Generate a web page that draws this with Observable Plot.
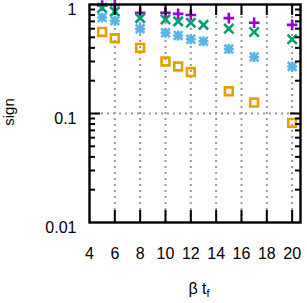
<!DOCTYPE html>
<html><head><meta charset="utf-8">
<script src="https://cdn.jsdelivr.net/npm/d3@7"></script>
<script src="https://cdn.jsdelivr.net/npm/@observablehq/plot@0.6"></script>
<style>body{margin:0;background:#fff} svg{display:block}</style>
</head><body><div id="chart"></div>
<script>
const betaTf = [5, 6, 8, 10, 11, 12, 13, 15, 17, 20];
const seriesPurple = [0.98, 0.99, 0.84, 0.84, 0.82, 0.80, null, 0.75, 0.68, 0.65];
const seriesGreen  = [0.93, 0.86, 0.75, 0.73, 0.70, 0.68, 0.65, 0.60, 0.56, 0.48];
const seriesBlue   = [0.76, 0.71, 0.60, 0.55, 0.52, 0.48, 0.46, 0.39, 0.33, 0.27];
const seriesOrange = [0.56, 0.49, 0.40, 0.30, 0.27, 0.24, null, 0.16, 0.126, 0.082];
const xTicks = [4, 6, 8, 10, 12, 14, 16, 18, 20];
const yTicks = [0.01, 0.1, 1];
const yTickLabels = ["0.01", "0.1", "1"];
const xLabel = "β t";
const xLabelSub = "f";
const yLabel = "sign";

const rows = s => betaTf.map((x, i) => ({x, y: s[i]})).filter(d => d.y != null);
const purple = rows(seriesPurple), green = rows(seriesGreen), blue = rows(seriesBlue), orange = rows(seriesOrange);
const minorY = [];
for (const d of [0.01, 0.1]) for (let k = 2; k <= 9; k++) minorY.push(+(d * k).toPrecision(3));
const innerX = xTicks.filter(t => t > 4);
const gridStyle = {stroke: "#999", strokeOpacity: 1, strokeWidth: 2, strokeDasharray: "2,4"};
const sw = 2.6;
const font = "'Liberation Sans', Arial, sans-serif";

const plot = Plot.plot({
  width: 307, height: 303,
  marginLeft: 89, marginRight: 7, marginTop: 4, marginBottom: 81,
  style: {fontFamily: font, fontSize: "16px", color: "#000", background: "#fff"},
  x: {domain: [4, 20.66], axis: null},
  y: {type: "log", domain: [0.01, 1], axis: null},
  marks: [
    Plot.gridX(innerX, gridStyle),
    Plot.gridY([0.1], gridStyle),
    Plot.dot(purple, {x: "x", y: "y", symbol: "plus", r: 3.5, stroke: "#9400D3", strokeWidth: sw}),
    Plot.dot(green, {x: "x", y: "y", symbol: "times", r: 4.3, stroke: "#009E73", strokeWidth: sw}),
    Plot.dot(blue, {x: "x", y: "y", symbol: "plus", r: 3.3, stroke: "#56B4E9", strokeWidth: sw}),
    Plot.dot(blue, {x: "x", y: "y", symbol: "times", r: 4.0, stroke: "#56B4E9", strokeWidth: sw}),
    Plot.dot(orange, {x: "x", y: "y", symbol: "square", r: 4.4, stroke: "#E69F00", fill: "none", strokeWidth: sw}),
    Plot.frame({stroke: "#000", strokeWidth: 2.4}),
    Plot.axisX(innerX, {anchor: "bottom", tickSize: 12, dy: -12, fill: "none", strokeWidth: 2, label: null}),
    Plot.axisX(innerX, {anchor: "top", tickSize: 10, dy: 10, fill: "none", strokeWidth: 2, label: null}),
    Plot.axisY([0.1], {anchor: "left", tickSize: 11, dx: 11, fill: "none", strokeWidth: 2, label: null}),
    Plot.axisY([0.1], {anchor: "right", tickSize: 11, dx: -11, fill: "none", strokeWidth: 2, label: null}),
    Plot.axisY(minorY, {anchor: "left", tickSize: 6, dx: 6, fill: "none", strokeWidth: 2, label: null}),
    Plot.axisY(minorY, {anchor: "right", tickSize: 6, dx: -6, fill: "none", strokeWidth: 2, label: null}),
    Plot.axisX(xTicks, {anchor: "bottom", tickSize: 0, tickPadding: 25, fontSize: 16, label: null}),
    Plot.axisY(yTicks, {anchor: "left", tickSize: 0, tickPadding: 13, dy: 5, fontSize: 16, tickFormat: d => yTickLabels[yTicks.indexOf(d)], label: null})
  ]
});
const svg = d3.select(plot);
const t = svg.append("text").attr("x", 199).attr("y", 294).attr("text-anchor", "middle")
  .attr("font-family", font).attr("font-size", 16).attr("fill", "#000");
t.append("tspan").text(xLabel);
t.append("tspan").attr("font-size", 11).attr("dy", 3).text(xLabelSub);
svg.append("text").attr("transform", "translate(14,112) rotate(-90)").attr("text-anchor", "middle")
  .attr("font-family", font).attr("font-size", 15).attr("fill", "#000").text(yLabel);
document.getElementById("chart").append(plot);
</script>
</body></html>
